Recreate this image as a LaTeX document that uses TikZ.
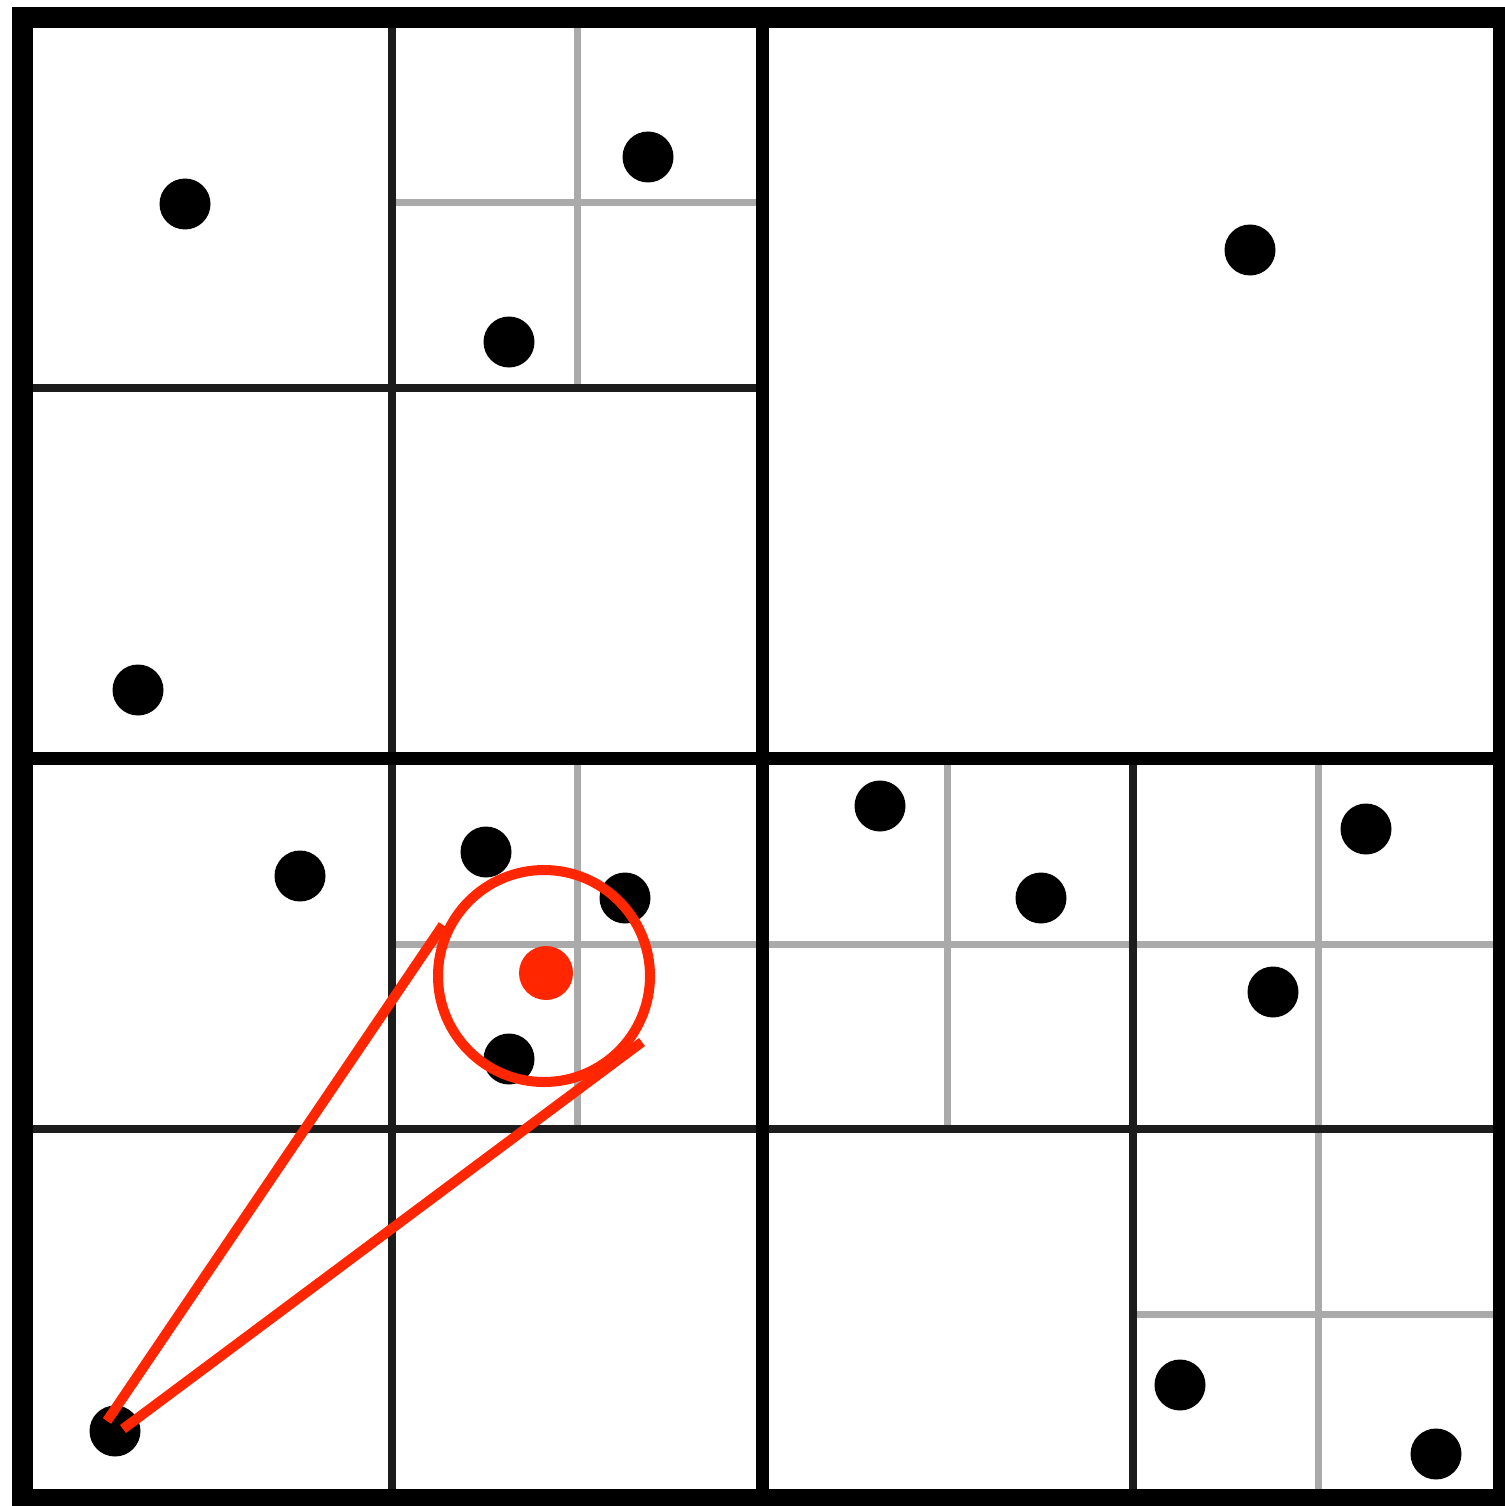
\documentclass[tikz,border=0pt]{standalone}
\usepackage{xcolor}
\definecolor{hlred}{RGB}{255,38,0}
\definecolor{gridgray}{RGB}{170,170,170}
\definecolor{griddark}{RGB}{28,28,28}
\tikzset{
  outerline/.style={line width=21pt, draw=black, line cap=butt},
  midline/.style={line width=13pt, draw=black, line cap=butt},
  quarterline/.style={line width=8pt, draw=griddark, line cap=butt},
  fineline/.style={line width=7pt, draw=gridgray, line cap=butt},
  pt/.style={circle, fill=black, inner sep=0pt, minimum size=51pt},
  redpt/.style={circle, fill=hlred, inner sep=0pt, minimum size=54pt},
  redline/.style={line width=10pt, draw=hlred, line cap=butt},
}
\begin{document}
\begin{tikzpicture}[x=1pt,y=-1pt]
\useasboundingbox (0,0) rectangle (1504,1506);
\fill[white] (0,0) rectangle (1504,1506);
% fine (gray) subdivision lines
\draw[fineline] (577,18) -- (577,388);
\draw[fineline] (392,203) -- (762,203);
\draw[fineline] (577,758.5) -- (577,1129);
\draw[fineline] (392,944) -- (1503,944);
\draw[fineline] (947.5,758.5) -- (947.5,1129);
\draw[fineline] (1318,758.5) -- (1318,1499);
\draw[fineline] (1133,1314) -- (1503,1314);
% quarter lines
\draw[quarterline] (392,18) -- (392,1499);
\draw[quarterline] (22,388) -- (762,388);
\draw[quarterline] (22,1129) -- (1503,1129);
\draw[quarterline] (1133,758.5) -- (1133,1499);
% mid lines
\draw[midline] (762.5,18) -- (762.5,1499);
\draw[midline] (22,758.5) -- (1503,758.5);
% outer square
\draw[outerline] (22,18) rectangle (1503,1499);
% points
\node[pt] (p1) at (185,204) {};
\node[pt] (p2) at (648,157) {};
\node[pt] (p3) at (509,342) {};
\node[pt] (p4) at (1250,250) {};
\node[pt] (p5) at (138,690) {};
\node[pt] (p6) at (300,876) {};
\node[pt] (p7) at (486,852) {};
\node[pt] (p8) at (625,898) {};
\node[pt] (p9) at (509,1059) {};
\node[pt] (p10) at (880,806) {};
\node[pt] (p11) at (1041,898) {};
\node[pt] (p12) at (1366,829) {};
\node[pt] (p13) at (1273,992) {};
\node[pt] (p14) at (1180,1385) {};
\node[pt] (p15) at (1436,1454) {};
\node[pt] (p16) at (115,1431) {};
% query point and circle
\node[redpt] (q) at (546,973) {};
\node[circle, draw=hlred, line width=10pt, minimum size=212pt, inner sep=0pt] (qc) at (544,976) {};
% cone lines
\coordinate (a1) at (107,1421);
\coordinate (a2) at (443,925);
\coordinate (b1) at (123,1429);
\coordinate (b2) at (642,1042);
\draw[redline] (a1) -- (a2);
\draw[redline] (b1) -- (b2);
\end{tikzpicture}
\end{document}
